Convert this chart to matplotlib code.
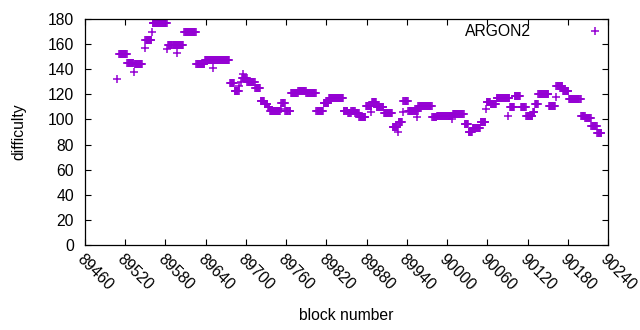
import numpy as np
import matplotlib
matplotlib.use("Agg")
import matplotlib.pyplot as plt

# runs of blocks sharing one difficulty value (start block, end block, difficulty)
RUN_START = [89508, 89511, 89523, 89533, 89534, 89549, 89550, 89560, 89561, 89583,
             89584, 89597, 89608, 89626, 89639, 89651, 89676, 89683, 89690, 89692,
             89694, 89696, 89702, 89714, 89722, 89728, 89733, 89736, 89752, 89753,
             89759, 89767, 89778, 89790, 89805, 89816, 89824, 89846, 89852, 89857,
             89863, 89869, 89879, 89887, 89888, 89895, 89906, 89919, 89927, 89928,
             89934, 89935, 89942, 89955, 89957, 89978, 89985, 89994, 90007, 90009,
             90026, 90032, 90038, 90050, 90058, 90059, 90065, 90074, 90091, 90094,
             90101, 90110, 90118, 90128, 90131, 90136, 90152, 90162, 90163, 90173,
             90182, 90200, 90206, 90215, 90224]
RUN_END = [89508, 89522, 89532, 89533, 89545, 89549, 89559, 89560, 89582, 89583,
           89606, 89597, 89625, 89638, 89675, 89651, 89682, 89689, 89690, 89692,
           89701, 89696, 89713, 89721, 89727, 89732, 89735, 89751, 89752, 89758,
           89766, 89777, 89789, 89804, 89815, 89823, 89845, 89851, 89856, 89862,
           89868, 89878, 89887, 89887, 89894, 89905, 89918, 89926, 89927, 89933,
           89934, 89941, 89956, 89955, 89977, 89984, 89993, 90008, 90007, 90025,
           90031, 90037, 90049, 90057, 90058, 90064, 90073, 90093, 90091, 90100,
           90109, 90117, 90127, 90130, 90135, 90151, 90161, 90162, 90172, 90181,
           90199, 90205, 90214, 90223, 90230]
RUN_DIFF = [132, 152, 145, 138, 144, 157, 163, 170, 177, 156,
            159, 153, 170, 144, 147, 141, 129, 123, 127, 130,
            133, 136, 130, 125, 115, 112, 110, 107, 108, 113,
            107, 121, 123, 121, 107, 113, 117, 107, 105, 107,
            105, 102, 111, 106, 114, 110, 105, 94, 90, 98,
            106, 115, 107, 102, 111, 102, 103, 103, 100, 104,
            96, 90, 93, 98, 108, 114, 112, 117, 103, 110,
            119, 110, 103, 106, 112, 120, 111, 118, 127, 123,
            116, 103, 101, 95, 89]

X_TICKS = list(range(89460, 90241, 60))
Y_TICKS = list(range(0, 181, 20))

FS = 11.3
plt.rcParams["font.family"] = ["Liberation Sans", "DejaVu Sans"]

blocks = np.concatenate([np.arange(s, e + 1) for s, e in zip(RUN_START, RUN_END)])
diffs = np.concatenate([np.full(e - s + 1, d, dtype=float)
                        for s, e, d in zip(RUN_START, RUN_END, RUN_DIFF)])

fig = plt.figure(figsize=(6.4, 3.3), dpi=100)
ax = fig.add_axes([85 / 640, 85 / 330, 523 / 640, 226 / 330])

ax.plot(blocks, diffs, linestyle="none", marker="+", markersize=5.2,
        markeredgewidth=1.1, color="#9400d3", label="ARGON2")

ax.set_xlim(X_TICKS[0], X_TICKS[-1])
ax.set_ylim(Y_TICKS[0], Y_TICKS[-1])
ax.set_xticks(X_TICKS)
ax.set_yticks(Y_TICKS)
ax.tick_params(direction="in", top=True, right=True, length=4, width=0.8,
               labelsize=FS, colors="black")
ax.tick_params(axis="y", pad=8)
ax.tick_params(axis="x", pad=5)
for lab in ax.get_xticklabels():
    lab.set_rotation(-45)
    lab.set_horizontalalignment("left")
    lab.set_verticalalignment("top")
    lab.set_rotation_mode("anchor")
for sp in ax.spines.values():
    sp.set_linewidth(0.9)

ax.set_xlabel("block number", fontsize=FS)
ax.set_ylabel("difficulty", fontsize=FS)
ax.xaxis.set_label_coords(0.5, -0.28)
ax.yaxis.set_label_coords(-0.112, 0.5)

ax.legend(loc="center right", bbox_to_anchor=(610.7 / 640, 1 - 32 / 330),
          bbox_transform=fig.transFigure, frameon=False, markerfirst=False,
          handlelength=2, handletextpad=3.08, borderpad=0, borderaxespad=0,
          fontsize=FS)

fig.savefig("out.png", dpi=100)
